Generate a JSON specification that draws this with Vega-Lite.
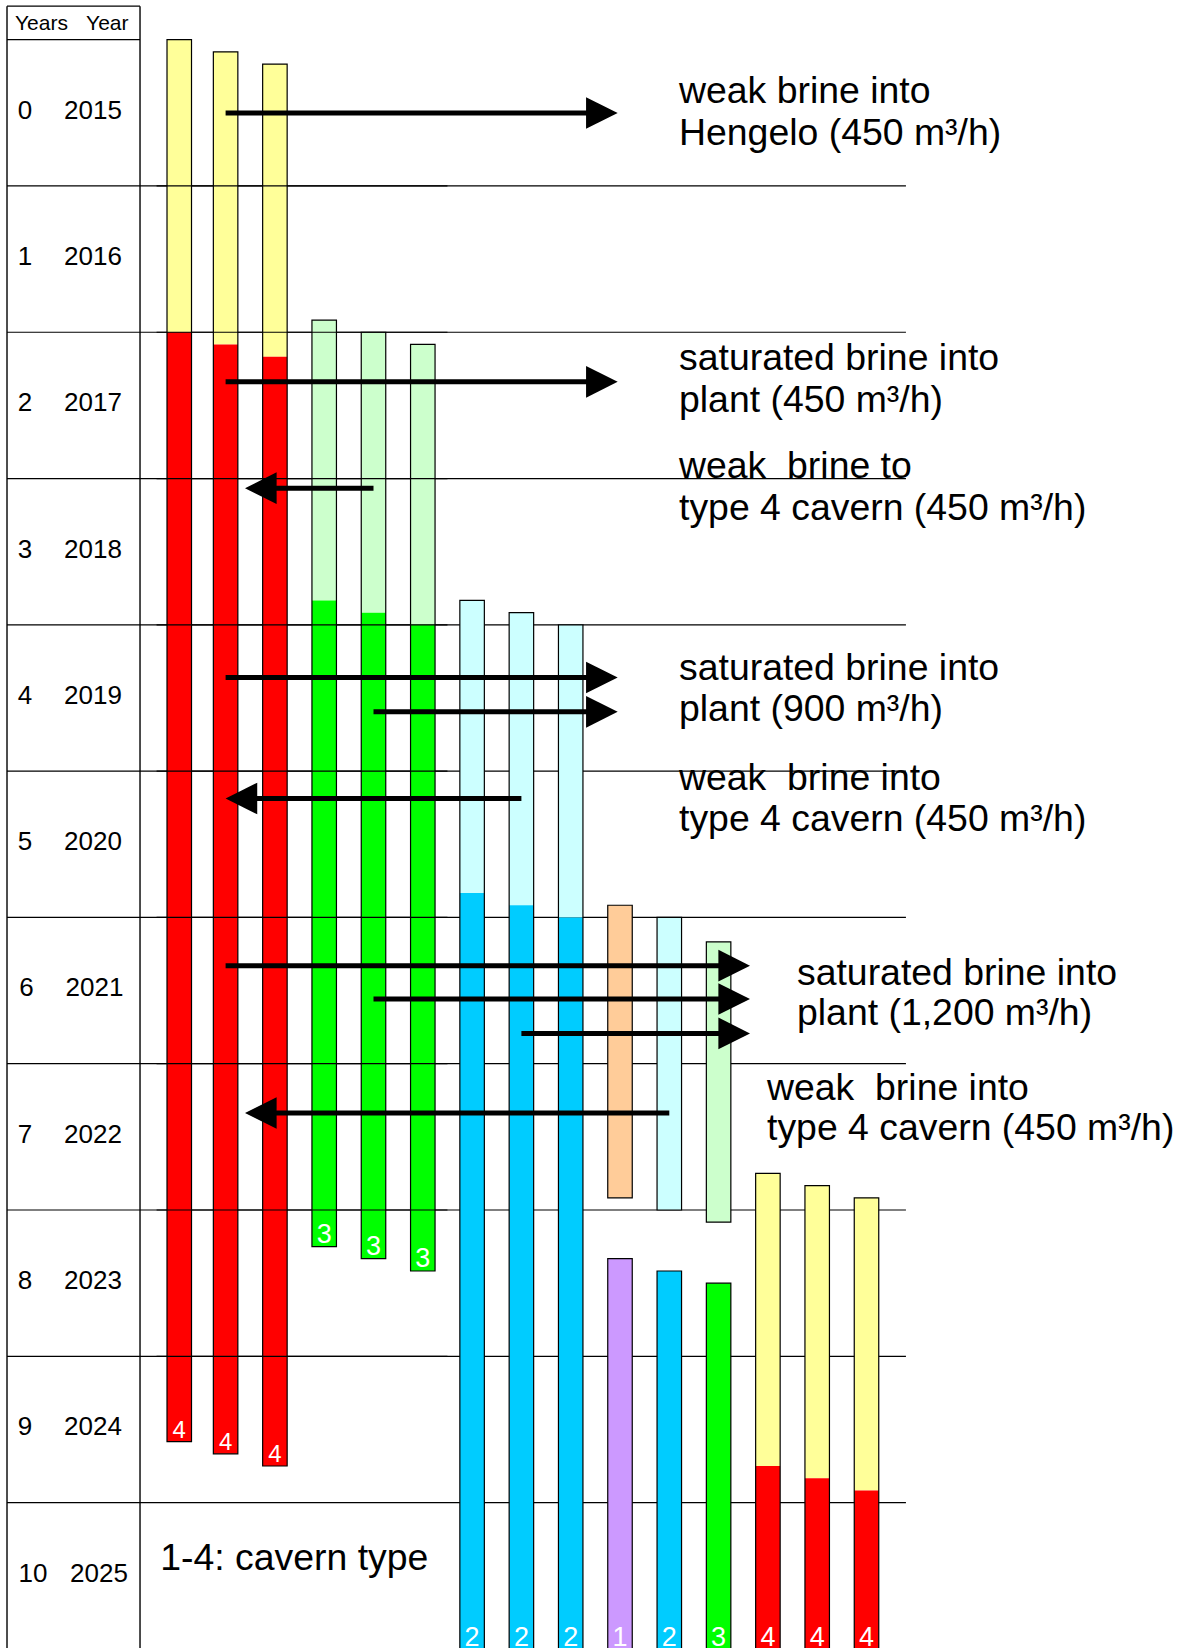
{
  "$schema": "https://vega.github.io/schema/vega-lite/v6.json",
  "autosize": "none",
  "padding": 0,
  "width": 1184,
  "height": 1648,
  "background": "white",
  "config": {"view": {"stroke": null}, "scale": {"continuousPadding": 0}},
  "datasets": {
    "segs": [
      {"cavern": "c1", "col": 1.06, "from": 0, "to": 2.0, "phase": "4 weak"},
      {"cavern": "c1", "col": 1.06, "from": 2.0, "to": 9.583, "phase": "4 saturated"},
      {"cavern": "c2", "col": 2, "from": 0.083, "to": 2.083, "phase": "4 weak"},
      {"cavern": "c2", "col": 2, "from": 2.083, "to": 9.667, "phase": "4 saturated"},
      {"cavern": "c3", "col": 3, "from": 0.167, "to": 2.167, "phase": "4 weak"},
      {"cavern": "c3", "col": 3, "from": 2.167, "to": 9.75, "phase": "4 saturated"},
      {"cavern": "c4", "col": 4, "from": 1.917, "to": 3.833, "phase": "3 weak"},
      {"cavern": "c4", "col": 4, "from": 3.833, "to": 8.25, "phase": "3 saturated"},
      {"cavern": "c5", "col": 5, "from": 2.0, "to": 3.917, "phase": "3 weak"},
      {"cavern": "c5", "col": 5, "from": 3.917, "to": 8.333, "phase": "3 saturated"},
      {"cavern": "c6", "col": 6, "from": 2.083, "to": 4.0, "phase": "3 weak"},
      {"cavern": "c6", "col": 6, "from": 4.0, "to": 8.417, "phase": "3 saturated"},
      {"cavern": "c7", "col": 7, "from": 3.833, "to": 5.833, "phase": "2 weak"},
      {"cavern": "c7", "col": 7, "from": 5.833, "to": 11.3, "phase": "2 saturated"},
      {"cavern": "c8", "col": 8, "from": 3.917, "to": 5.917, "phase": "2 weak"},
      {"cavern": "c8", "col": 8, "from": 5.917, "to": 11.3, "phase": "2 saturated"},
      {"cavern": "c9", "col": 9, "from": 4.0, "to": 6.0, "phase": "2 weak"},
      {"cavern": "c9", "col": 9, "from": 6.0, "to": 11.3, "phase": "2 saturated"},
      {"cavern": "c10a", "col": 10, "from": 5.917, "to": 7.917, "phase": "1 weak"},
      {"cavern": "c10b", "col": 10, "from": 8.333, "to": 11.3, "phase": "1 saturated"},
      {"cavern": "c11a", "col": 11, "from": 6.0, "to": 8.0, "phase": "2 weak"},
      {"cavern": "c11b", "col": 11, "from": 8.417, "to": 11.3, "phase": "2 saturated"},
      {"cavern": "c12a", "col": 12, "from": 6.167, "to": 8.083, "phase": "3 weak"},
      {"cavern": "c12b", "col": 12, "from": 8.5, "to": 11.3, "phase": "3 saturated"},
      {"cavern": "c13", "col": 13, "from": 7.75, "to": 9.75, "phase": "4 weak"},
      {"cavern": "c13", "col": 13, "from": 9.75, "to": 11.3, "phase": "4 saturated"},
      {"cavern": "c14", "col": 14, "from": 7.833, "to": 9.833, "phase": "4 weak"},
      {"cavern": "c14", "col": 14, "from": 9.833, "to": 11.3, "phase": "4 saturated"},
      {"cavern": "c15", "col": 15, "from": 7.917, "to": 9.917, "phase": "4 weak"},
      {"cavern": "c15", "col": 15, "from": 9.917, "to": 11.3, "phase": "4 saturated"}
    ],
    "labels": [
      {"col": 1.06, "y": 9.556, "text": "4", "grp": "small"},
      {"col": 2, "y": 9.64, "text": "4", "grp": "small"},
      {"col": 3, "y": 9.723, "text": "4", "grp": "small"},
      {"col": 4, "y": 8.223, "text": "3", "grp": "big"},
      {"col": 5, "y": 8.306, "text": "3", "grp": "big"},
      {"col": 6, "y": 8.39, "text": "3", "grp": "big"},
      {"col": 7, "y": 10.98, "text": "2", "grp": "big"},
      {"col": 8, "y": 10.98, "text": "2", "grp": "big"},
      {"col": 9, "y": 10.98, "text": "2", "grp": "big"},
      {"col": 10, "y": 10.98, "text": "1", "grp": "big"},
      {"col": 11, "y": 10.98, "text": "2", "grp": "big"},
      {"col": 12, "y": 10.98, "text": "3", "grp": "big"},
      {"col": 13, "y": 10.98, "text": "4", "grp": "big"},
      {"col": 14, "y": 10.98, "text": "4", "grp": "big"},
      {"col": 15, "y": 10.98, "text": "4", "grp": "big"}
    ],
    "hgrid": [
      {"y": -0.229, "x1": -2.434, "x2": 0.264},
      {"y": 0, "x1": -2.434, "x2": 0.264},
      {"y": 1, "x1": -2.434, "x2": 15.8},
      {"y": 2, "x1": -2.434, "x2": 15.8},
      {"y": 3, "x1": -2.434, "x2": 15.8},
      {"y": 4, "x1": -2.434, "x2": 15.8},
      {"y": 5, "x1": -2.434, "x2": 15.8},
      {"y": 6, "x1": -2.434, "x2": 15.8},
      {"y": 7, "x1": -2.434, "x2": 15.8},
      {"y": 8, "x1": -2.434, "x2": 15.8},
      {"y": 9, "x1": -2.434, "x2": 15.8},
      {"y": 10, "x1": -2.434, "x2": 15.8}
    ],
    "hgridTop": [
      {"y": 1, "x1": 0.6, "x2": 6.5},
      {"y": 2, "x1": 0.6, "x2": 6.5},
      {"y": 3, "x1": 0.6, "x2": 6.5},
      {"y": 4, "x1": 0.6, "x2": 6.5},
      {"y": 5, "x1": 0.6, "x2": 6.5},
      {"y": 6, "x1": 0.6, "x2": 6.5},
      {"y": 7, "x1": 0.6, "x2": 6.5},
      {"y": 8, "x1": 0.6, "x2": 6.5},
      {"y": 9, "x1": 0.6, "x2": 6.5}
    ],
    "vgrid": [
      {"x": -2.434, "y1": -0.229, "y2": 11.3},
      {"x": 0.264, "y1": -0.229, "y2": 11.3}
    ],
    "arrows": [
      {"x0": 2, "xl": 9.45, "tip": 9.953, "y": 0.501, "dir": "right"},
      {"x0": 2, "xl": 9.45, "tip": 9.953, "y": 2.339, "dir": "right"},
      {"x0": 5, "xl": 2.9, "tip": 2.393, "y": 3.066, "dir": "left"},
      {"x0": 2, "xl": 9.45, "tip": 9.953, "y": 4.36, "dir": "right"},
      {"x0": 5, "xl": 9.45, "tip": 9.953, "y": 4.595, "dir": "right"},
      {"x0": 8, "xl": 2.5, "tip": 2.0, "y": 5.187, "dir": "left"},
      {"x0": 2, "xl": 12.13, "tip": 12.637, "y": 6.33, "dir": "right"},
      {"x0": 5, "xl": 12.13, "tip": 12.637, "y": 6.558, "dir": "right"},
      {"x0": 8, "xl": 12.13, "tip": 12.637, "y": 6.793, "dir": "right"},
      {"x0": 11, "xl": 2.9, "tip": 2.393, "y": 7.337, "dir": "left"}
    ],
    "notes": [
      {"x": 11.197, "y": 0.433, "text": "weak brine into"},
      {"x": 11.197, "y": 0.72, "text": "Hengelo (450 m³/h)"},
      {"x": 11.197, "y": 2.257, "text": "saturated brine into"},
      {"x": 11.197, "y": 2.542, "text": "plant (450 m³/h)"},
      {"x": 11.197, "y": 2.996, "text": "weak\u00a0 brine to"},
      {"x": 11.197, "y": 3.283, "text": "type 4 cavern (450 m³/h)"},
      {"x": 11.197, "y": 4.376, "text": "saturated brine into"},
      {"x": 11.197, "y": 4.656, "text": "plant (900 m³/h)"},
      {"x": 11.197, "y": 5.128, "text": "weak\u00a0 brine into"},
      {"x": 11.197, "y": 5.412, "text": "type 4 cavern (450 m³/h)"},
      {"x": 13.59, "y": 6.465, "text": "saturated brine into"},
      {"x": 13.59, "y": 6.734, "text": "plant (1,200 m³/h)"},
      {"x": 12.982, "y": 7.246, "text": "weak\u00a0 brine into"},
      {"x": 12.982, "y": 7.52, "text": "type 4 cavern (450 m³/h)"},
      {"x": 0.674, "y": 10.463, "text": "1-4: cavern type"}
    ],
    "table": [
      {"n": "0", "yr": "2015", "xn": -2.069, "xy": -0.69, "y": 0.54},
      {"n": "1", "yr": "2016", "xn": -2.069, "xy": -0.69, "y": 1.54},
      {"n": "2", "yr": "2017", "xn": -2.069, "xy": -0.69, "y": 2.54},
      {"n": "3", "yr": "2018", "xn": -2.069, "xy": -0.69, "y": 3.54},
      {"n": "4", "yr": "2019", "xn": -2.069, "xy": -0.69, "y": 4.54},
      {"n": "5", "yr": "2020", "xn": -2.069, "xy": -0.69, "y": 5.54},
      {"n": "6", "yr": "2021", "xn": -2.04, "xy": -0.66, "y": 6.54},
      {"n": "7", "yr": "2022", "xn": -2.069, "xy": -0.69, "y": 7.54},
      {"n": "8", "yr": "2023", "xn": -2.069, "xy": -0.69, "y": 8.54},
      {"n": "9", "yr": "2024", "xn": -2.069, "xy": -0.69, "y": 9.54},
      {"n": "10", "yr": "2025", "xn": -1.907, "xy": -0.568, "y": 10.545}
    ],
    "head": [
      {"text": "Years", "x": -2.272, "y": -0.066},
      {"text": "Year", "x": -0.83, "y": -0.066}
    ]
  },
  "layer": [
    {
      "data": {"name": "hgrid"},
      "mark": {"type": "rule", "color": "black", "strokeWidth": 1.2},
      "encoding": {
        "x": {"field": "x1", "type": "quantitative", "scale": {"domain": [-2.5761, 21.4402], "nice": false, "zero": false, "padding": 0}, "axis": null},
        "x2": {"field": "x2"},
        "y": {"field": "y", "type": "quantitative", "scale": {"domain": [-0.271, 10.994], "reverse": true, "nice": false, "zero": false, "padding": 0}, "axis": null}
      }
    },
    {
      "data": {"name": "vgrid"},
      "mark": {"type": "rule", "color": "black", "strokeWidth": 1.4},
      "encoding": {
        "x": {"field": "x", "type": "quantitative", "scale": {"domain": [-2.5761, 21.4402], "nice": false, "zero": false, "padding": 0}, "axis": null},
        "y": {"field": "y1", "type": "quantitative", "scale": {"domain": [-0.271, 10.994], "reverse": true, "nice": false, "zero": false, "padding": 0}, "axis": null},
        "y2": {"field": "y2"}
      }
    },
    {
      "data": {"name": "segs"},
      "mark": {"type": "bar", "width": 24.5, "strokeWidth": 0, "clip": true, "opacity": 1},
      "encoding": {
        "x": {"field": "col", "type": "quantitative", "scale": {"domain": [-2.5761, 21.4402], "nice": false, "zero": false, "padding": 0}, "axis": null},
        "y": {"field": "from", "type": "quantitative", "scale": {"domain": [-0.271, 10.994], "reverse": true, "nice": false, "zero": false, "padding": 0}, "axis": null},
        "y2": {"field": "to"},
        "color": {
          "field": "phase", "type": "nominal", "legend": null,
          "scale": {
            "domain": ["4 weak", "4 saturated", "3 weak", "3 saturated", "2 weak", "2 saturated", "1 weak", "1 saturated"],
            "range": ["#FFFF99", "#FF0000", "#CCFFCC", "#00FF00", "#CCFFFF", "#00CCFF", "#FFCC99", "#CC99FF"]
          }
        }
      }
    },
    {
      "data": {"name": "segs"},
      "transform": [
        {"aggregate": [{"op": "min", "field": "from", "as": "top"}, {"op": "max", "field": "to", "as": "bot"}], "groupby": ["cavern", "col"]}
      ],
      "mark": {"type": "bar", "width": 24.5, "fill": "transparent", "stroke": "black", "strokeWidth": 1.2, "clip": true},
      "encoding": {
        "x": {"field": "col", "type": "quantitative", "scale": {"domain": [-2.5761, 21.4402], "nice": false, "zero": false, "padding": 0}, "axis": null},
        "y": {"field": "top", "type": "quantitative", "scale": {"domain": [-0.271, 10.994], "reverse": true, "nice": false, "zero": false, "padding": 0}, "axis": null},
        "y2": {"field": "bot"}
      }
    },
    {
      "data": {"name": "hgridTop"},
      "mark": {"type": "rule", "color": "black", "strokeWidth": 1.2},
      "encoding": {
        "x": {"field": "x1", "type": "quantitative", "scale": {"domain": [-2.5761, 21.4402], "nice": false, "zero": false, "padding": 0}, "axis": null},
        "x2": {"field": "x2"},
        "y": {"field": "y", "type": "quantitative", "scale": {"domain": [-0.271, 10.994], "reverse": true, "nice": false, "zero": false, "padding": 0}, "axis": null}
      }
    },
    {
      "data": {"name": "labels"},
      "transform": [{"filter": "datum.grp == 'small'"}],
      "mark": {"type": "text", "font": "Liberation Sans", "fontSize": 24, "color": "white", "align": "center", "baseline": "alphabetic"},
      "encoding": {
        "x": {"field": "col", "type": "quantitative", "scale": {"domain": [-2.5761, 21.4402], "nice": false, "zero": false, "padding": 0}, "axis": null},
        "y": {"field": "y", "type": "quantitative", "scale": {"domain": [-0.271, 10.994], "reverse": true, "nice": false, "zero": false, "padding": 0}, "axis": null},
        "text": {"field": "text"}
      }
    },
    {
      "data": {"name": "labels"},
      "transform": [{"filter": "datum.grp == 'big'"}],
      "mark": {"type": "text", "font": "Liberation Sans", "fontSize": 27, "color": "white", "align": "center", "baseline": "alphabetic"},
      "encoding": {
        "x": {"field": "col", "type": "quantitative", "scale": {"domain": [-2.5761, 21.4402], "nice": false, "zero": false, "padding": 0}, "axis": null},
        "y": {"field": "y", "type": "quantitative", "scale": {"domain": [-0.271, 10.994], "reverse": true, "nice": false, "zero": false, "padding": 0}, "axis": null},
        "text": {"field": "text"}
      }
    },
    {
      "data": {"name": "arrows"},
      "mark": {"type": "rule", "color": "black", "strokeWidth": 5, "strokeCap": "butt"},
      "encoding": {
        "x": {"field": "x0", "type": "quantitative", "scale": {"domain": [-2.5761, 21.4402], "nice": false, "zero": false, "padding": 0}, "axis": null},
        "x2": {"field": "xl"},
        "y": {"field": "y", "type": "quantitative", "scale": {"domain": [-0.271, 10.994], "reverse": true, "nice": false, "zero": false, "padding": 0}, "axis": null}
      }
    },
    {
      "data": {"name": "arrows"},
      "transform": [{"filter": "datum.dir == 'right'"}],
      "mark": {"type": "point", "shape": "M0,0L-2,-1L-2,1Z", "size": 1000, "filled": true, "color": "black", "opacity": 1, "strokeWidth": 0},
      "encoding": {
        "x": {"field": "tip", "type": "quantitative", "scale": {"domain": [-2.5761, 21.4402], "nice": false, "zero": false, "padding": 0}, "axis": null},
        "y": {"field": "y", "type": "quantitative", "scale": {"domain": [-0.271, 10.994], "reverse": true, "nice": false, "zero": false, "padding": 0}, "axis": null}
      }
    },
    {
      "data": {"name": "arrows"},
      "transform": [{"filter": "datum.dir == 'left'"}],
      "mark": {"type": "point", "shape": "M0,0L2,-1L2,1Z", "size": 1000, "filled": true, "color": "black", "opacity": 1, "strokeWidth": 0},
      "encoding": {
        "x": {"field": "tip", "type": "quantitative", "scale": {"domain": [-2.5761, 21.4402], "nice": false, "zero": false, "padding": 0}, "axis": null},
        "y": {"field": "y", "type": "quantitative", "scale": {"domain": [-0.271, 10.994], "reverse": true, "nice": false, "zero": false, "padding": 0}, "axis": null}
      }
    },
    {
      "data": {"name": "notes"},
      "mark": {"type": "text", "font": "Liberation Sans", "fontSize": 37.4, "color": "black", "align": "left", "baseline": "alphabetic"},
      "encoding": {
        "x": {"field": "x", "type": "quantitative", "scale": {"domain": [-2.5761, 21.4402], "nice": false, "zero": false, "padding": 0}, "axis": null},
        "y": {"field": "y", "type": "quantitative", "scale": {"domain": [-0.271, 10.994], "reverse": true, "nice": false, "zero": false, "padding": 0}, "axis": null},
        "text": {"field": "text"}
      }
    },
    {
      "data": {"name": "table"},
      "mark": {"type": "text", "font": "Liberation Sans", "fontSize": 26, "color": "black", "align": "center", "baseline": "alphabetic"},
      "encoding": {
        "x": {"field": "xn", "type": "quantitative", "scale": {"domain": [-2.5761, 21.4402], "nice": false, "zero": false, "padding": 0}, "axis": null},
        "y": {"field": "y", "type": "quantitative", "scale": {"domain": [-0.271, 10.994], "reverse": true, "nice": false, "zero": false, "padding": 0}, "axis": null},
        "text": {"field": "n"}
      }
    },
    {
      "data": {"name": "table"},
      "mark": {"type": "text", "font": "Liberation Sans", "fontSize": 26, "color": "black", "align": "center", "baseline": "alphabetic"},
      "encoding": {
        "x": {"field": "xy", "type": "quantitative", "scale": {"domain": [-2.5761, 21.4402], "nice": false, "zero": false, "padding": 0}, "axis": null},
        "y": {"field": "y", "type": "quantitative", "scale": {"domain": [-0.271, 10.994], "reverse": true, "nice": false, "zero": false, "padding": 0}, "axis": null},
        "text": {"field": "yr"}
      }
    },
    {
      "data": {"name": "head"},
      "mark": {"type": "text", "font": "Liberation Sans", "fontSize": 21, "color": "black", "align": "left", "baseline": "alphabetic"},
      "encoding": {
        "x": {"field": "x", "type": "quantitative", "scale": {"domain": [-2.5761, 21.4402], "nice": false, "zero": false, "padding": 0}, "axis": null},
        "y": {"field": "y", "type": "quantitative", "scale": {"domain": [-0.271, 10.994], "reverse": true, "nice": false, "zero": false, "padding": 0}, "axis": null},
        "text": {"field": "text"}
      }
    }
  ]
}
